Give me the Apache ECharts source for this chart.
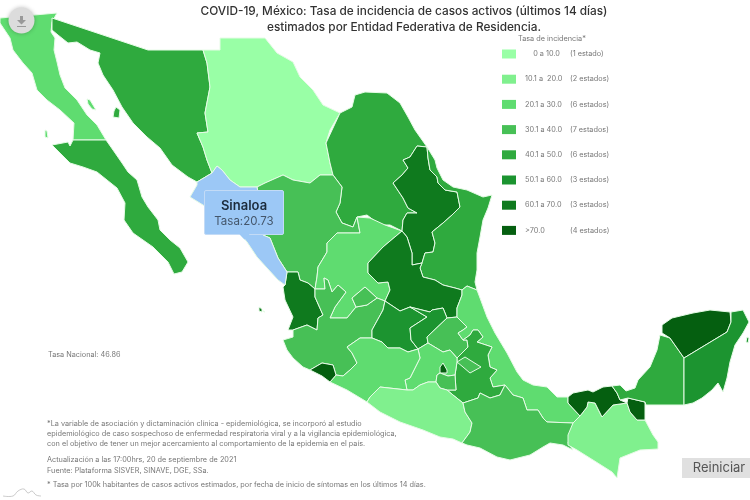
<!DOCTYPE html>
<html lang="es">
<head>
<meta charset="utf-8">
<title>COVID-19, México</title>
<style>
  html, body { margin: 0; padding: 0; background: #fff; }
  #chart { width: 750px; height: 500px; }
</style>
<script src="https://cdn.jsdelivr.net/npm/echarts@6/dist/echarts.min.js"></script>
</head>
<body>
<div id="chart"></div>
<script>
const FONT = 'Inter, "Open Sans", sans-serif';

// valores estimados por color; solo Sinaloa se lee en la imagen
const stateNames = ['Baja California', 'Baja California Sur', 'Sonora', 'Chihuahua', 'Coahuila', 'Nuevo León', 'Tamaulipas',
  'Sinaloa', 'Durango', 'Zacatecas', 'Nayarit', 'Jalisco', 'Aguascalientes', 'San Luis Potosí', 'Guanajuato', 'Querétaro',
  'Hidalgo', 'Veracruz', 'Puebla', 'Tlaxcala', 'México', 'Ciudad de México', 'Morelos', 'Michoacán', 'Colima', 'Guerrero',
  'Oaxaca', 'Chiapas', 'Tabasco', 'Campeche', 'Yucatán', 'Quintana Roo'];
const stateRates = [27, 45, 46, 8, 44, 65, 46,
  20.73, 36, 26, 64, 37, 35, 66, 55, 57,
  38, 27, 43, 34, 25, 74, 33, 26, 78, 15,
  36, 17, 73, 45, 76, 56];

const legendMin = [0, 10.1, 20.1, 30.1, 40.1, 50.1, 60.1, 70.1];
const legendMax = [10, 20, 30, 40, 50, 60, 70, 1000];
const legendLabels = ['    0 a 10.0', '10.1 a  20.0', '20.1 a 30.0', '30.1 a 40.0', '40.1 a 50.0', '50.1 a 60.0', '60.1 a 70.0', '>70.0'];
const legendCounts = ['(1 estado)', '(2 estados)', '(6 estados)', '(7 estados)', '(6 estados)', '(3 estados)', '(3 estados)', '(4 estados)'];
const legendColors = ['#99ffa6', '#80f08e', '#5fdc70', '#47c056', '#2faa3e', '#1c9430', '#0f7a1e', '#055f10'];

const notes = [
  '*La variable de asociación y dictaminación clínica - epidemiológica, se incorporó al estudio',
  'epidemiológico de caso sospechoso de enfermedad respiratoria viral y a la vigilancia epidemiológica,',
  'con el objetivo de tener un mejor acercamiento al comportamiento de la epidemia en el país.'
];

// contornos de los estados, en pixeles de la imagen: x,y x,y ...
const outlines = {
  'Baja California': ['0,18 57,13 52,22 51,32 55,38 54,50 57,62 60,75 65,88 77,100 87,115 97,125 106,140 73,140 74,123 60,110 47,100 37,90 32,73 23,63 13,50 10,38 0,23',
    '87,99 90,100 96,110 92,109 88,104', '45,130 47,131 48,138 45,137'],
  'Baja California Sur': ['52,145 68,142 70,146 73,140 106,140 113,150 122,163 128,172 137,180 142,197 148,207 158,220 160,230 170,240 180,248 188,262 182,272 174,274 168,262 153,247 133,233 124,220 125,203 117,188 107,180 97,172 83,167 70,163 62,155'],
  'Sonora': ['52,18 148,50 203,50 207,63 210,87 205,113 208,132 197,133 203,147 207,160 212,173 197,182 188,177 172,165 160,148 147,137 133,123 122,107 113,90 103,75 98,63 100,53 90,50 77,42 68,43 58,35 52,30',
    '116,107 120,110 119,118 113,117 114,111'],
  'Chihuahua': ['203,50 220,50 220,38 265,38 277,53 293,62 300,77 313,90 323,105 340,113 330,130 326,143 330,163 333,175 320,175 310,183 293,180 283,175 265,183 257,187 240,187 230,180 222,170 217,166 212,173 207,160 203,147 197,133 208,132 205,113 210,87 207,63'],
  'Coahuila': ['326,143 340,113 352,107 355,95 365,92 387,93 400,103 408,117 415,130 427,147 417,146 410,157 403,160 408,168 402,175 393,183 403,198 408,208 417,213 407,213 403,220 402,231 390,225 380,225 367,215 357,217 353,227 342,223 336,212 340,203 342,187 333,175 330,163'],
  'Nuevo León': ['427,147 428,158 430,170 437,177 438,183 445,190 457,192 460,207 452,215 443,223 432,232 435,243 433,252 425,253 422,263 412,265 412,253 407,237 402,231 403,220 407,213 417,213 408,208 403,198 393,183 402,175 408,168 403,160 410,157 417,146'],
  'Tamaulipas': ['427,147 435,160 437,168 443,180 453,187 467,190 483,197 492,195 488,208 483,220 480,237 477,253 477,270 475,282 477,290 467,286 462,290 455,288 443,285 435,280 423,277 420,268 422,263 425,253 433,252 435,243 432,232 443,223 452,215 460,207 457,192 445,190 438,183 437,177 430,170 428,158'],
  'Sinaloa': ['212,173 217,166 222,170 230,180 240,187 257,187 262,215 263,235 270,238 278,258 287,272 285,285 278,280 267,268 257,257 247,242 235,228 215,213 203,205 190,197 197,185 197,182'],
  'Durango': ['333,175 342,187 340,203 336,212 342,223 353,227 357,217 360,233 337,233 327,243 327,252 318,267 317,277 315,289 308,283 300,280 298,272 287,272 278,258 270,238 263,235 262,215 257,187 265,183 283,175 293,180 310,183 320,175'],
  'Zacatecas': ['357,217 370,218 385,225 402,231 383,247 368,263 368,273 378,283 388,282 390,290 385,301 377,298 365,287 352,298 356,307 347,318 330,318 335,307 346,292 338,285 332,292 328,280 324,278 325,289 315,289 317,277 318,267 327,252 327,243 337,233 360,233'],
  'Nayarit': ['287,272 298,272 300,280 308,283 315,289 315,297 323,315 318,318 317,330 307,325 293,330 288,330 293,317 285,300 283,287 285,285', '259,307 262,309 262,312 259,311', '263,311 265,312 264,313'],
  'Jalisco': ['315,289 325,289 324,278 328,280 332,292 338,285 346,292 335,307 330,318 347,318 356,307 367,305 377,298 385,301 383,310 372,330 372,338 360,338 347,347 352,353 357,363 350,370 343,376 336,375 333,365 322,363 310,370 303,367 293,358 287,350 283,340 293,337 293,330 307,325 317,330 318,318 323,315 315,297'],
  'Aguascalientes': ['365,287 377,298 367,305 356,307 352,298'],
  'San Luis Potosí': ['402,231 407,237 412,253 412,265 422,263 420,268 423,277 435,280 443,285 455,288 462,290 462,295 457,308 457,317 447,318 443,308 432,310 430,312 410,307 400,311 385,301 390,290 388,282 378,283 368,273 368,263 383,247'],
  'Guanajuato': ['385,301 400,311 410,307 427,317 410,328 411,340 418,349 408,352 400,348 388,348 382,342 372,338 372,330 383,310'],
  'Querétaro': ['430,312 432,310 443,308 447,318 427,337 428,343 418,349 411,340 410,328 427,317 410,307'],
  'Hidalgo': ['447,318 457,317 467,327 463,330 458,333 463,340 467,340 468,347 457,358 450,350 443,352 428,343 427,337'],
  'Veracruz': ['462,290 467,286 477,290 480,298 487,317 495,333 507,353 517,372 523,380 533,385 547,387 557,397 568,397 568,403 580,416 573,423 547,422 543,418 538,410 527,410 523,398 513,395 505,385 493,387 490,378 497,370 490,367 488,355 492,347 477,342 483,337 478,330 473,330 470,335 463,340 458,333 463,330 467,327 457,317 457,308 462,295'],
  'Puebla': ['463,340 470,335 473,330 478,330 483,337 477,342 492,347 488,355 490,367 497,370 490,378 493,387 505,385 500,395 490,398 480,393 478,398 463,403 453,395 447,390 456,390 455,375 457,362 457,358 468,347 467,340'],
  'Tlaxcala': ['457,362 465,357 481,367 470,373 463,367'],
  'México': ['418,349 428,343 443,352 450,350 457,358 457,362 455,375 448,376 440,373 437,375 436,382 428,382 420,385 413,390 407,390 405,380 410,378 420,358'],
  'Ciudad de México': ['443,363 447,370 447,373 440,373 440,367'],
  'Morelos': ['437,375 440,373 448,376 455,375 456,390 447,390 440,388 436,382'],
  'Michoacán': ['347,347 360,338 372,338 382,342 388,348 400,348 408,352 418,349 420,358 410,378 405,380 407,390 380,387 370,397 367,402 347,390 330,382 336,375 343,376 350,370 357,363 352,353'],
  'Colima': ['310,370 322,363 333,365 336,375 330,382 322,376'],
  'Guerrero': ['367,402 370,397 380,387 407,390 413,390 420,385 428,382 436,382 440,388 447,390 453,395 463,403 465,412 472,423 470,432 462,443 453,439 440,437 423,430 400,422 380,412'],
  'Oaxaca': ['463,403 478,398 480,393 490,398 500,395 505,385 513,395 523,398 527,410 538,410 543,418 547,422 573,423 570,437 568,443 573,450 563,445 550,443 543,447 530,455 510,460 497,457 480,448 467,445 462,443 470,432 472,423 465,412'],
  'Chiapas': ['573,423 580,416 587,407 588,402 595,403 602,417 613,405 627,403 630,412 637,420 645,420 653,435 658,442 658,449 640,450 620,458 617,478 612,472 593,460 577,450 568,445 568,435'],
  'Tabasco': ['568,397 573,393 588,390 593,392 603,387 612,386 617,393 620,400 627,403 628,398 645,402 645,420 637,420 630,412 627,403 613,405 602,417 595,403 588,402 587,407 580,416 568,403'],
  'Campeche': ['684,358 684,405 646,405 645,402 628,398 620,400 617,393 612,386 620,385 626,391 635,388 638,380 650,367 657,350 660,335 670,338'],
  'Yucatán': ['662,333 662,325 672,318 693,313 710,310 730,312 731,322 727,332 684,358 670,338'],
  'Quintana Roo': ['731,312 743,310 749,322 743,333 735,345 730,362 727,378 723,392 718,383 712,390 702,398 693,403 684,405 684,358 727,332 731,322', '747,337 749,338 748,343 746,342']
};

// el mapa se registra con y invertida para que coincida con los pixeles
function buildGeoJson() {
  const features = stateNames.map(name => ({
    type: 'Feature',
    properties: { name: name },
    geometry: {
      type: 'MultiPolygon',
      coordinates: outlines[name].map(ring => {
        const pts = ring.split(' ').map(p => {
          const xy = p.split(',').map(Number);
          return [xy[0], 500 - xy[1]];
        });
        pts.push(pts[0]);
        return [pts];
      })
    }
  }));
  return { type: 'FeatureCollection', features: features };
}

echarts.registerMap('mexico', buildGeoJson());

const chart = echarts.init(document.getElementById('chart'));

const noteStyle = { fontFamily: FONT, fontSize: 7.3, fontWeight: 400, color: '#777' };
function note(text, x, y) {
  return { text: text, left: x, top: y, padding: 0, textStyle: noteStyle };
}

const option = {
  animation: false,
  backgroundColor: '#fff',
  title: [
    {
      text: 'COVID-19, México: Tasa de incidencia de casos activos (últimos 14 días)\nestimados por Entidad Federativa de Residencia.',
      left: 404, top: 4, padding: 0, textAlign: 'center',
      textStyle: { fontFamily: FONT, fontSize: 11.8, fontWeight: 500, color: '#333', lineHeight: 15.5 }
    },
    note('Tasa de incidencia*', 518, 35),
    note('Tasa Nacional: 46.86', 48, 351),
    note(notes[0], 47, 420),
    note(notes[1], 47, 430),
    note(notes[2], 47, 440),
    note('Actualización a las 17:00hrs, 20 de septiembre de 2021', 47, 456),
    note('Fuente: Plataforma SISVER, SINAVE, DGE, SSa.', 47, 467),
    note('* Tasa por 100k habitantes de casos activos estimados, por fecha de inicio de síntomas en los últimos 14 días.', 47, 481)
  ].concat(legendCounts.map((c, i) => note(c, 570, 50.5 + i * 25.2))),
  tooltip: {
    show: true,
    trigger: 'item',
    triggerOn: 'none',
    alwaysShowContent: true,
    padding: 0,
    borderWidth: 0,
    backgroundColor: 'transparent',
    extraCssText: 'box-shadow:none;',
    position: () => [204, 190],
    formatter: p => '<div style="position:relative;width:78px;height:43px;background:#9cc8f6;border:1px solid #c3dbf6;border-radius:2px;text-align:center;font-family:Inter,sans-serif;">'
      + '<div style="font-size:13px;font-weight:600;color:#1c2b3c;line-height:16px;margin-top:6px;">' + p.name + '</div>'
      + '<div style="font-size:11.5px;color:#44566b;line-height:17px;">Tasa:' + p.value + '</div>'
      + '<div style="position:absolute;left:36px;bottom:-4px;width:7px;height:7px;background:#9cc8f6;transform:rotate(45deg);"></div></div>'
  },
  visualMap: {
    type: 'piecewise',
    seriesIndex: 0,
    left: 502, top: 49.5, padding: 0,
    orient: 'vertical',
    align: 'left',
    inverse: true,
    itemWidth: 14, itemHeight: 9, itemGap: 16.2, textGap: 9,
    selectedMode: false,
    hoverLink: false,
    itemSymbol: 'rect',
    textStyle: { fontFamily: FONT, fontSize: 7.3, color: '#777' },
    pieces: legendLabels.map((label, i) => ({ min: legendMin[i], max: legendMax[i], label: label, color: legendColors[i] }))
  },
  graphic: [
    { type: 'circle', shape: { cx: 21.5, cy: 20.5, r: 13 }, style: { fill: '#dcdcdc', shadowBlur: 4, shadowColor: 'rgba(0,0,0,0.25)' }, z: 100 },
    { type: 'polygon', z: 101, shape: { points: [[20, 16], [23, 16], [23, 20], [26, 20], [21.5, 24.5], [17, 20], [20, 20]] }, style: { fill: '#999' } },
    { type: 'rect', z: 101, shape: { x: 17, y: 26, width: 9, height: 1 }, style: { fill: '#999' } },
    { type: 'rect', shape: { x: 682, y: 458, width: 68, height: 20 }, style: { fill: '#e0e0e0' }, z: 100 },
    { type: 'text', x: 719, y: 468, z: 101, style: { text: 'Reiniciar', fontFamily: FONT, fontSize: 13, fill: '#555', align: 'center', verticalAlign: 'middle' } },
    { type: 'polyline', z: 10, shape: { points: [[3, 496], [13, 496], [18, 491], [24, 489], [28, 493], [32, 491], [36, 495], [41, 496]], smooth: 0.4 }, style: { fill: 'none', stroke: '#aaa', lineWidth: 0.6 } }
  ],
  series: [{
    type: 'map',
    map: 'mexico',
    roam: false,
    aspectScale: 1,
    boundingCoords: [[0, 500], [750, 0]],
    left: 0, top: 0, width: 750, height: 500,
    selectedMode: 'single',
    label: { show: false },
    itemStyle: { borderColor: '#e6fbe6', borderWidth: 1 },
    emphasis: { label: { show: false } },
    select: { label: { show: false }, itemStyle: { areaColor: '#9cc8f6', borderColor: '#e6fbe6' } },
    data: stateNames.map((name, i) => ({ name: name, value: stateRates[i], selected: name === 'Sinaloa' }))
  }]
};
chart.setOption(option);
chart.dispatchAction({ type: 'showTip', seriesIndex: 0, name: 'Sinaloa' });
</script>
</body>
</html>
